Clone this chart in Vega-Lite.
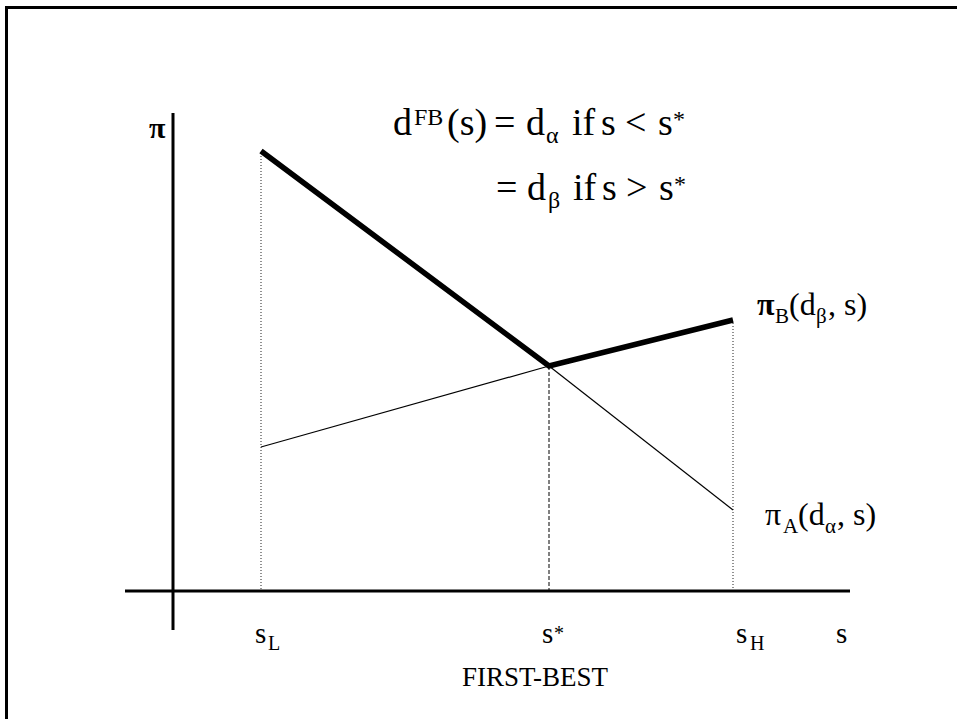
{
  "$schema": "https://vega.github.io/schema/vega-lite/v6.json",
  "width": 957,
  "height": 719,
  "padding": 0,
  "autosize": {"type": "none"},
  "background": "white",
  "config": {"view": {"stroke": null}, "text": {"font": "Liberation Serif", "color": "black"}},
  "datasets": {
    "frame": [{"s": -166.5, "s2": 800, "p": 583.5, "p2": -150}],
    "axes": [
      {"s": 0, "s2": 0, "p": -39, "p2": 478},
      {"s": -48, "s2": 677, "p": 0, "p2": 0}
    ],
    "dotted": [{"s": 88, "p": 438}, {"s": 560, "p": 268}],
    "dashed": [{"s": 376, "p": 225}],
    "curves": [
      {"curve": "thick", "s": 88, "p": 440},
      {"curve": "thick", "s": 376, "p": 225},
      {"curve": "thick", "s": 560, "p": 271},
      {"curve": "thinB", "s": 88, "p": 144},
      {"curve": "thinB", "s": 376, "p": 225},
      {"curve": "thinA", "s": 376, "p": 225},
      {"curve": "thinA", "s": 560, "p": 81}
    ],
    "formulaMain": [
      {"t": "d", "s": 220, "p": 456},
      {"t": "(s)", "s": 274, "p": 456},
      {"t": "=", "s": 321, "p": 456},
      {"t": "d", "s": 353, "p": 456},
      {"t": "if", "s": 399, "p": 456},
      {"t": "s", "s": 428, "p": 456},
      {"t": "<", "s": 452, "p": 456},
      {"t": "s", "s": 485, "p": 456},
      {"t": "=", "s": 323, "p": 391},
      {"t": "d", "s": 354, "p": 391},
      {"t": "if", "s": 400, "p": 391},
      {"t": "s", "s": 429, "p": 391},
      {"t": ">", "s": 453, "p": 391},
      {"t": "s", "s": 486, "p": 391}
    ],
    "formulaSmall": [
      {"t": "FB", "s": 241, "p": 466},
      {"t": "α", "s": 373, "p": 448},
      {"t": "*", "s": 500, "p": 464},
      {"t": "β", "s": 375, "p": 383},
      {"t": "*", "s": 501, "p": 399}
    ],
    "piLabel": [
      {"t": "π", "s": 584, "p": 276}
    ],
    "labelMain": [
      {"t": "(d", "s": 616, "p": 276},
      {"t": ", s)", "s": 655, "p": 276},
      {"t": "π", "s": 592, "p": 66},
      {"t": "(d", "s": 625, "p": 66},
      {"t": ", s)", "s": 664, "p": 66}
    ],
    "labelSmall": [
      {"t": "B", "s": 602, "p": 268},
      {"t": "β", "s": 643, "p": 268},
      {"t": "A", "s": 610, "p": 58},
      {"t": "α", "s": 652, "p": 58}
    ],
    "piAxis": [
      {"t": "π", "s": -24, "p": 453}
    ],
    "axisLabel": [
      {"t": "s", "s": 82, "p": -52},
      {"t": "s", "s": 369, "p": -52},
      {"t": "s", "s": 563, "p": -52},
      {"t": "s", "s": 663, "p": -52}
    ],
    "axisSmall": [
      {"t": "L", "s": 95, "p": -59},
      {"t": "*", "s": 381, "p": -49},
      {"t": "H", "s": 577, "p": -59}
    ],
    "caption": [{"t": "FIRST-BEST", "s": 362, "p": -95}]
  },
  "encoding": {
    "x": {"field": "s", "type": "quantitative", "scale": {"domain": [-173, 784], "nice": false, "zero": false}, "axis": null},
    "y": {"field": "p", "type": "quantitative", "scale": {"domain": [-128, 591], "nice": false, "zero": false}, "axis": null}
  },
  "layer": [
    {
      "data": {"name": "frame"},
      "mark": {"type": "rect", "filled": false, "stroke": "black", "strokeWidth": 3},
      "encoding": {"x2": {"field": "s2"}, "y2": {"field": "p2"}}
    },
    {
      "data": {"name": "dotted"},
      "mark": {"type": "rule", "stroke": "#222", "strokeWidth": 1, "strokeDash": [1, 2]},
      "encoding": {"y2": {"datum": 0}}
    },
    {
      "data": {"name": "dashed"},
      "mark": {"type": "rule", "stroke": "black", "strokeWidth": 1, "strokeDash": [4, 2]},
      "encoding": {"y2": {"datum": 0}}
    },
    {
      "data": {"name": "axes"},
      "mark": {"type": "rule", "stroke": "black", "strokeWidth": 3},
      "encoding": {"x2": {"field": "s2"}, "y2": {"field": "p2"}}
    },
    {
      "data": {"name": "curves"},
      "transform": [{"filter": "datum.curve != 'thick'"}],
      "mark": {"type": "line", "stroke": "black", "strokeWidth": 1.2},
      "encoding": {"detail": {"field": "curve"}}
    },
    {
      "data": {"name": "curves"},
      "transform": [{"filter": "datum.curve == 'thick'"}],
      "mark": {"type": "line", "stroke": "black", "strokeWidth": 5.5, "strokeCap": "butt", "strokeJoin": "miter"},
      "encoding": {}
    },
    {
      "data": {"name": "formulaMain"},
      "mark": {"type": "text", "align": "left", "baseline": "alphabetic", "fontSize": 38},
      "encoding": {"text": {"field": "t"}}
    },
    {
      "data": {"name": "formulaSmall"},
      "mark": {"type": "text", "align": "left", "baseline": "alphabetic", "fontSize": 24},
      "encoding": {"text": {"field": "t"}}
    },
    {
      "data": {"name": "piLabel"},
      "mark": {"type": "text", "align": "left", "baseline": "alphabetic", "fontSize": 32, "fontWeight": "bold"},
      "encoding": {"text": {"field": "t"}}
    },
    {
      "data": {"name": "labelMain"},
      "mark": {"type": "text", "align": "left", "baseline": "alphabetic", "fontSize": 32},
      "encoding": {"text": {"field": "t"}}
    },
    {
      "data": {"name": "labelSmall"},
      "mark": {"type": "text", "align": "left", "baseline": "alphabetic", "fontSize": 21},
      "encoding": {"text": {"field": "t"}}
    },
    {
      "data": {"name": "piAxis"},
      "mark": {"type": "text", "align": "left", "baseline": "alphabetic", "fontSize": 30, "fontWeight": "bold"},
      "encoding": {"text": {"field": "t"}}
    },
    {
      "data": {"name": "axisLabel"},
      "mark": {"type": "text", "align": "left", "baseline": "alphabetic", "fontSize": 29},
      "encoding": {"text": {"field": "t"}}
    },
    {
      "data": {"name": "axisSmall"},
      "mark": {"type": "text", "align": "left", "baseline": "alphabetic", "fontSize": 20},
      "encoding": {"text": {"field": "t"}}
    },
    {
      "data": {"name": "caption"},
      "mark": {"type": "text", "align": "center", "baseline": "alphabetic", "fontSize": 27},
      "encoding": {"text": {"field": "t"}}
    }
  ]
}
